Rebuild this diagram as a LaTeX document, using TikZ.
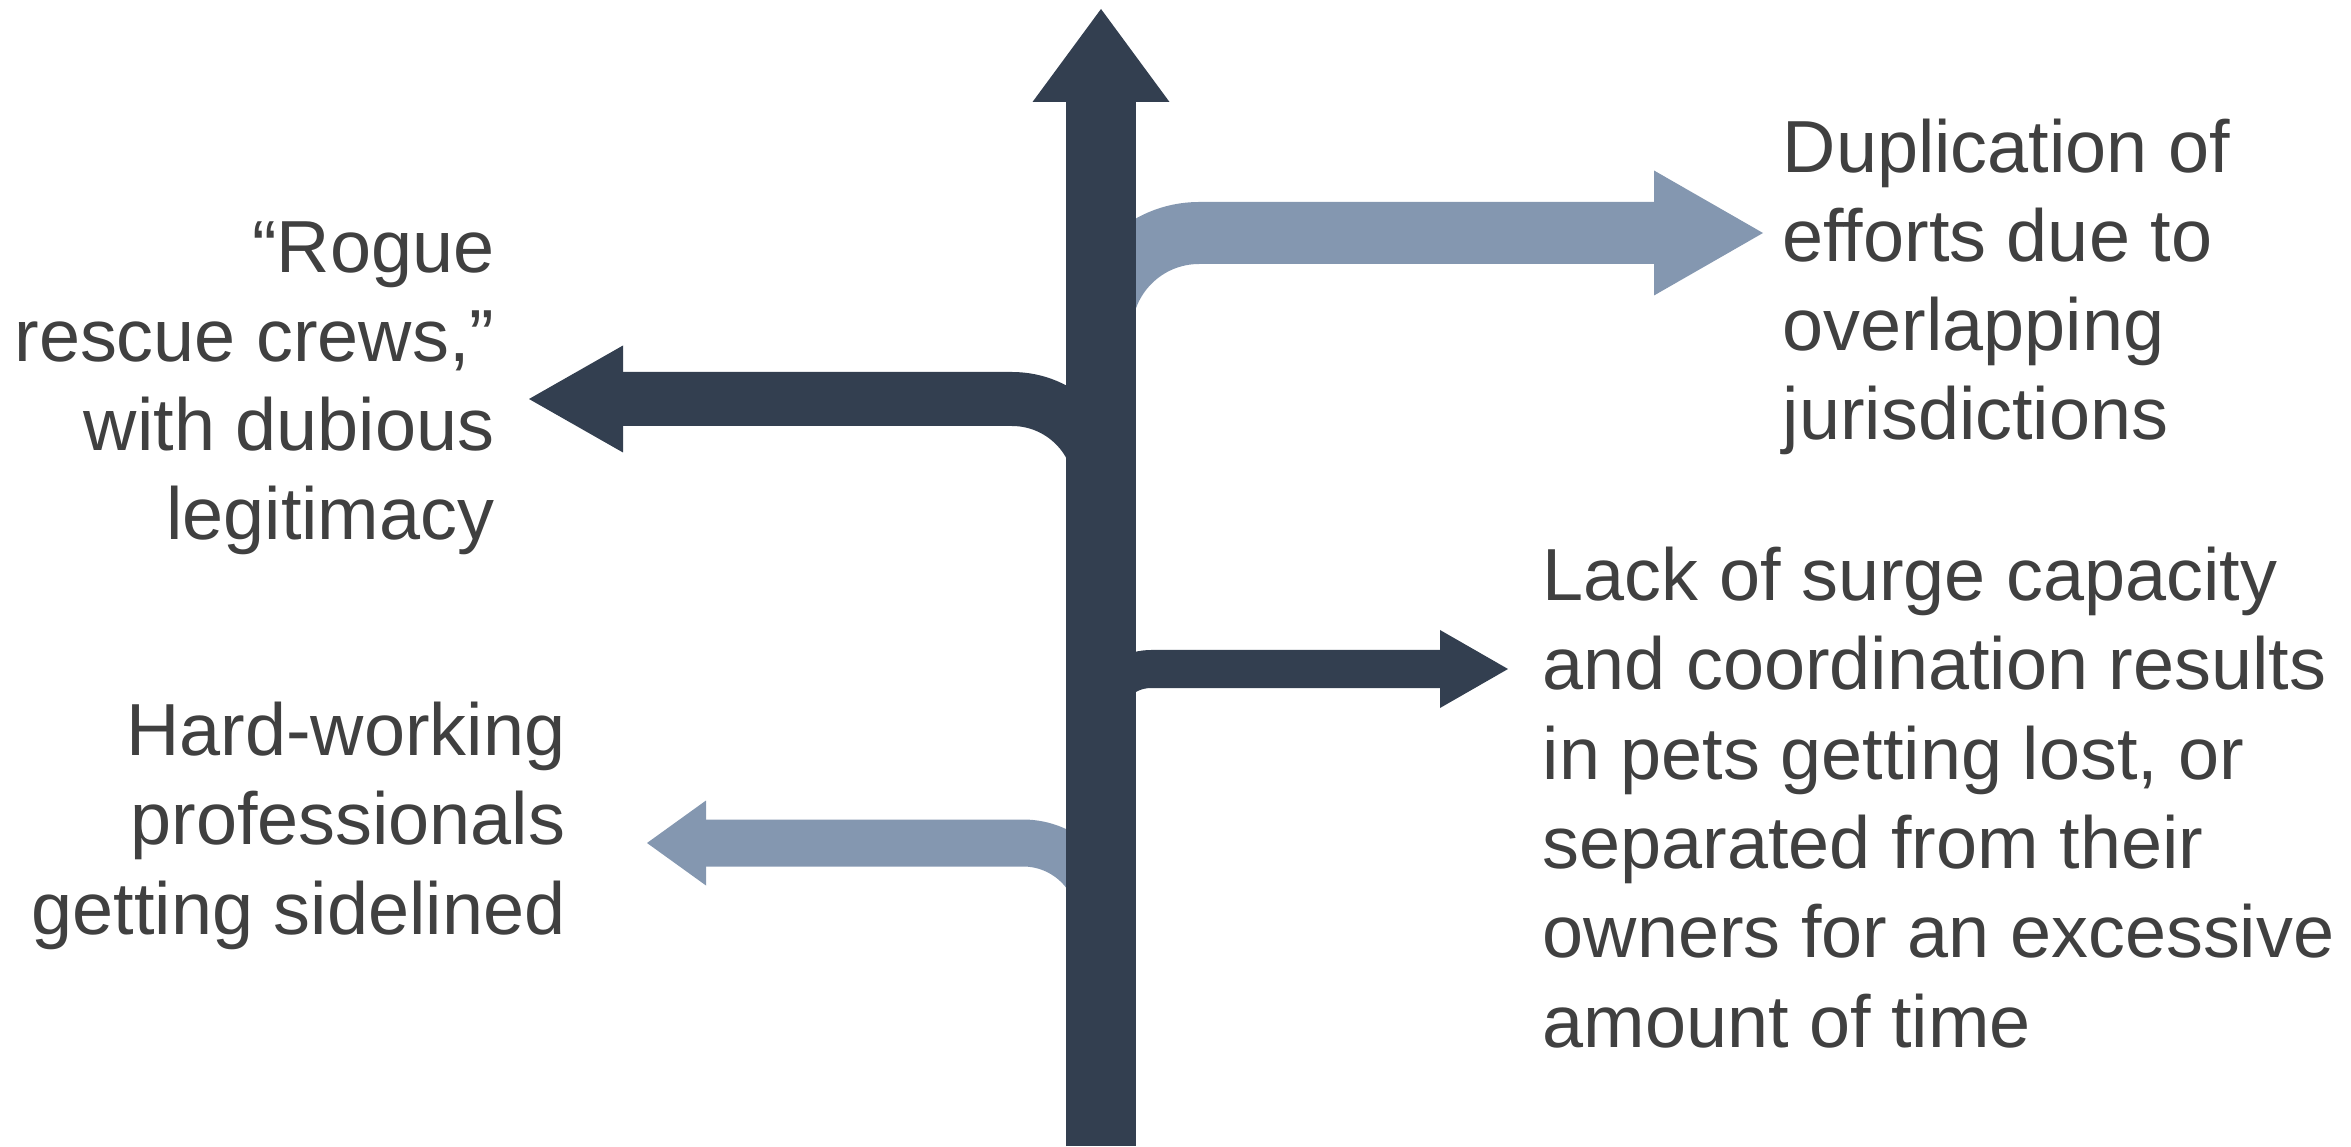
\documentclass[tikz,border=0pt]{standalone}
\usepackage{fontspec}
\setmainfont{Liberation Sans}
\usepackage{xcolor}
\usetikzlibrary{positioning}
\definecolor{darkslate}{HTML}{333F50}
\definecolor{lightslate}{HTML}{8497B0}
\definecolor{textgray}{HTML}{404040}

\begin{document}
\begin{tikzpicture}[x=1mm, y=1mm,
  signtext/.style={font=\fontsize{21}{25.4}\selectfont, text=textgray, inner sep=0pt},
  arm/.style={line cap=butt, line join=round}]
\useasboundingbox (0,0) rectangle (235.1,114.6);

% 右上分支
\draw[arm, lightslate, line width=6.2mm, rounded corners=9.8mm] (110.1,81.5) -- (110.1,91.3) -- (165.8,91.3);
\fill[lightslate] (165.4,97.55) -- (176.3,91.3) -- (165.4,85.05) -- cycle;

% 左上分支
\draw[arm, darkslate, line width=5.4mm, rounded corners=8.9mm] (110.1,65.8) -- (110.1,74.7) -- (61.9,74.7);
\fill[darkslate] (62.3,80.05) -- (52.9,74.7) -- (62.3,69.35) -- cycle;

% 右下分支
\draw[arm, darkslate, line width=3.8mm, rounded corners=5mm] (110.1,42.7) -- (110.1,47.7) -- (144.4,47.7);
\fill[darkslate] (144.0,51.6) -- (150.8,47.7) -- (144.0,43.8) -- cycle;

% 左下分支
\draw[arm, lightslate, line width=4.7mm, rounded corners=7.8mm] (110.1,22.5) -- (110.1,30.3) -- (70.2,30.3);
\fill[lightslate] (70.6,34.55) -- (64.7,30.3) -- (70.6,26.05) -- cycle;

% 主干
\draw[darkslate, line width=7mm] (110.1,0) -- (110.1,104.8);
\fill[darkslate] (103.25,104.4) -- (110.1,113.7) -- (116.95,104.4) -- cycle;

% 文字 (base = 最后一行基线)
\node[signtext, anchor=base west, align=left] (dup) at (178.2,70.6)
  {Duplication of\\efforts due to\\overlapping\\jurisdictions};
\node[signtext, anchor=base east, align=right] (rogue) at (49.5,60.6)
  {“Rogue\\rescue crews,”\\with dubious\\legitimacy};
\node[signtext, anchor=base west, align=left] (lack) at (154.2,9.9)
  {Lack of surge capacity\\and coordination results\\in pets getting lost, or\\separated from their\\owners for an excessive\\amount of time};
\node[signtext, anchor=base east, align=right] (hard) at (56.6,21.2)
  {Hard-working\\professionals\\getting sidelined};
\end{tikzpicture}
\end{document}
